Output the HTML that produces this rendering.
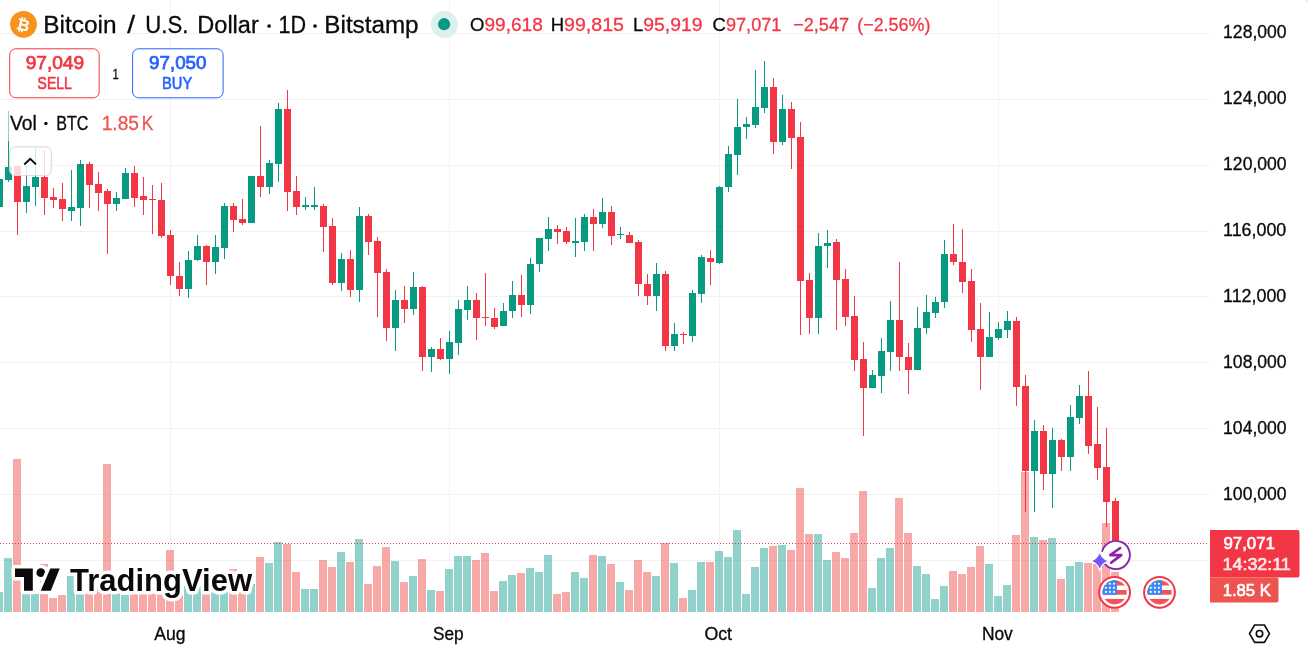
<!DOCTYPE html>
<html><head><meta charset="utf-8">
<style>
html,body{margin:0;padding:0;background:#fff;}
body{width:1308px;height:653px;overflow:hidden;position:relative;}
svg{position:absolute;left:0;top:0;}
.ov{will-change:transform;}
text{font-family:"Liberation Sans",Arial,sans-serif;}
</style></head><body>
<svg width="1308" height="653" viewBox="0 0 1308 653" shape-rendering="crispEdges">
<rect x="0" y="33" width="1209" height="1" fill="#F2F2F3"/>
<rect x="0" y="99" width="1209" height="1" fill="#F2F2F3"/>
<rect x="0" y="165" width="1209" height="1" fill="#F2F2F3"/>
<rect x="0" y="231" width="1209" height="1" fill="#F2F2F3"/>
<rect x="0" y="296" width="1209" height="1" fill="#F2F2F3"/>
<rect x="0" y="362" width="1209" height="1" fill="#F2F2F3"/>
<rect x="0" y="428" width="1209" height="1" fill="#F2F2F3"/>
<rect x="0" y="494" width="1209" height="1" fill="#F2F2F3"/>
<rect x="0" y="560" width="1209" height="1" fill="#F2F2F3"/>
<rect x="170" y="0" width="1" height="612" fill="#F2F2F3"/>
<rect x="449" y="0" width="1" height="612" fill="#F2F2F3"/>
<rect x="719" y="0" width="1" height="612" fill="#F2F2F3"/>
<rect x="998" y="0" width="1" height="612" fill="#F2F2F3"/>
<rect x="-5" y="592" width="8" height="20" fill="rgba(38,166,154,0.5)"/>
<rect x="4" y="558" width="8" height="54" fill="rgba(38,166,154,0.5)"/>
<rect x="13" y="459" width="8" height="153" fill="rgba(239,83,80,0.5)"/>
<rect x="22" y="594" width="8" height="18" fill="rgba(38,166,154,0.5)"/>
<rect x="31" y="594" width="8" height="18" fill="rgba(38,166,154,0.5)"/>
<rect x="40" y="564" width="8" height="48" fill="rgba(239,83,80,0.5)"/>
<rect x="49" y="598" width="8" height="14" fill="rgba(239,83,80,0.5)"/>
<rect x="58" y="595" width="8" height="17" fill="rgba(239,83,80,0.5)"/>
<rect x="67" y="576" width="8" height="36" fill="rgba(38,166,154,0.5)"/>
<rect x="76" y="586" width="8" height="26" fill="rgba(38,166,154,0.5)"/>
<rect x="85" y="594" width="8" height="18" fill="rgba(239,83,80,0.5)"/>
<rect x="94" y="584" width="8" height="28" fill="rgba(239,83,80,0.5)"/>
<rect x="103" y="464" width="8" height="148" fill="rgba(239,83,80,0.5)"/>
<rect x="112" y="590" width="8" height="22" fill="rgba(38,166,154,0.5)"/>
<rect x="121" y="595" width="8" height="17" fill="rgba(38,166,154,0.5)"/>
<rect x="130" y="592" width="8" height="20" fill="rgba(239,83,80,0.5)"/>
<rect x="139" y="592" width="8" height="20" fill="rgba(239,83,80,0.5)"/>
<rect x="148" y="592" width="8" height="20" fill="rgba(239,83,80,0.5)"/>
<rect x="157" y="592" width="8" height="20" fill="rgba(239,83,80,0.5)"/>
<rect x="166" y="550" width="8" height="62" fill="rgba(239,83,80,0.5)"/>
<rect x="175" y="585" width="8" height="27" fill="rgba(239,83,80,0.5)"/>
<rect x="184" y="586" width="8" height="26" fill="rgba(38,166,154,0.5)"/>
<rect x="193" y="586" width="8" height="26" fill="rgba(38,166,154,0.5)"/>
<rect x="202" y="588" width="8" height="24" fill="rgba(239,83,80,0.5)"/>
<rect x="211" y="588" width="8" height="24" fill="rgba(38,166,154,0.5)"/>
<rect x="220" y="588" width="8" height="24" fill="rgba(38,166,154,0.5)"/>
<rect x="229" y="569" width="8" height="43" fill="rgba(239,83,80,0.5)"/>
<rect x="238" y="590" width="8" height="22" fill="rgba(239,83,80,0.5)"/>
<rect x="247" y="584" width="8" height="28" fill="rgba(38,166,154,0.5)"/>
<rect x="256" y="557" width="8" height="55" fill="rgba(239,83,80,0.5)"/>
<rect x="265" y="563" width="8" height="49" fill="rgba(38,166,154,0.5)"/>
<rect x="274" y="542" width="8" height="70" fill="rgba(38,166,154,0.5)"/>
<rect x="283" y="544" width="8" height="68" fill="rgba(239,83,80,0.5)"/>
<rect x="292" y="572" width="8" height="40" fill="rgba(239,83,80,0.5)"/>
<rect x="301" y="589" width="8" height="23" fill="rgba(38,166,154,0.5)"/>
<rect x="310" y="589" width="8" height="23" fill="rgba(38,166,154,0.5)"/>
<rect x="319" y="560" width="8" height="52" fill="rgba(239,83,80,0.5)"/>
<rect x="328" y="567" width="8" height="45" fill="rgba(239,83,80,0.5)"/>
<rect x="337" y="552" width="8" height="60" fill="rgba(38,166,154,0.5)"/>
<rect x="346" y="562" width="8" height="50" fill="rgba(239,83,80,0.5)"/>
<rect x="355" y="539" width="8" height="73" fill="rgba(38,166,154,0.5)"/>
<rect x="364" y="584" width="8" height="28" fill="rgba(239,83,80,0.5)"/>
<rect x="373" y="566" width="8" height="46" fill="rgba(239,83,80,0.5)"/>
<rect x="382" y="547" width="8" height="65" fill="rgba(239,83,80,0.5)"/>
<rect x="391" y="561" width="8" height="51" fill="rgba(38,166,154,0.5)"/>
<rect x="400" y="582" width="8" height="30" fill="rgba(239,83,80,0.5)"/>
<rect x="409" y="576" width="8" height="36" fill="rgba(38,166,154,0.5)"/>
<rect x="418" y="559" width="8" height="53" fill="rgba(239,83,80,0.5)"/>
<rect x="427" y="590" width="8" height="22" fill="rgba(38,166,154,0.5)"/>
<rect x="436" y="591" width="8" height="21" fill="rgba(239,83,80,0.5)"/>
<rect x="445" y="569" width="8" height="43" fill="rgba(38,166,154,0.5)"/>
<rect x="454" y="556" width="8" height="56" fill="rgba(38,166,154,0.5)"/>
<rect x="463" y="556" width="8" height="56" fill="rgba(38,166,154,0.5)"/>
<rect x="472" y="560" width="8" height="52" fill="rgba(239,83,80,0.5)"/>
<rect x="481" y="553" width="8" height="59" fill="rgba(239,83,80,0.5)"/>
<rect x="490" y="591" width="8" height="21" fill="rgba(239,83,80,0.5)"/>
<rect x="499" y="581" width="8" height="31" fill="rgba(38,166,154,0.5)"/>
<rect x="508" y="575" width="8" height="37" fill="rgba(38,166,154,0.5)"/>
<rect x="517" y="573" width="8" height="39" fill="rgba(239,83,80,0.5)"/>
<rect x="526" y="568" width="8" height="44" fill="rgba(38,166,154,0.5)"/>
<rect x="535" y="572" width="8" height="40" fill="rgba(38,166,154,0.5)"/>
<rect x="544" y="555" width="8" height="57" fill="rgba(38,166,154,0.5)"/>
<rect x="553" y="594" width="8" height="18" fill="rgba(239,83,80,0.5)"/>
<rect x="562" y="592" width="8" height="20" fill="rgba(239,83,80,0.5)"/>
<rect x="571" y="572" width="8" height="40" fill="rgba(38,166,154,0.5)"/>
<rect x="580" y="578" width="8" height="34" fill="rgba(38,166,154,0.5)"/>
<rect x="589" y="555" width="8" height="57" fill="rgba(239,83,80,0.5)"/>
<rect x="598" y="556" width="8" height="56" fill="rgba(38,166,154,0.5)"/>
<rect x="607" y="564" width="8" height="48" fill="rgba(239,83,80,0.5)"/>
<rect x="616" y="582" width="8" height="30" fill="rgba(38,166,154,0.5)"/>
<rect x="625" y="590" width="8" height="22" fill="rgba(239,83,80,0.5)"/>
<rect x="634" y="560" width="8" height="52" fill="rgba(239,83,80,0.5)"/>
<rect x="643" y="572" width="8" height="40" fill="rgba(239,83,80,0.5)"/>
<rect x="652" y="576" width="8" height="36" fill="rgba(38,166,154,0.5)"/>
<rect x="661" y="543" width="8" height="69" fill="rgba(239,83,80,0.5)"/>
<rect x="670" y="563" width="8" height="49" fill="rgba(38,166,154,0.5)"/>
<rect x="679" y="598" width="8" height="14" fill="rgba(239,83,80,0.5)"/>
<rect x="688" y="590" width="8" height="22" fill="rgba(38,166,154,0.5)"/>
<rect x="697" y="562" width="8" height="50" fill="rgba(38,166,154,0.5)"/>
<rect x="706" y="562" width="8" height="50" fill="rgba(239,83,80,0.5)"/>
<rect x="715" y="551" width="8" height="61" fill="rgba(38,166,154,0.5)"/>
<rect x="724" y="557" width="8" height="55" fill="rgba(38,166,154,0.5)"/>
<rect x="733" y="530" width="8" height="82" fill="rgba(38,166,154,0.5)"/>
<rect x="742" y="594" width="8" height="18" fill="rgba(38,166,154,0.5)"/>
<rect x="751" y="567" width="8" height="45" fill="rgba(38,166,154,0.5)"/>
<rect x="760" y="548" width="8" height="64" fill="rgba(38,166,154,0.5)"/>
<rect x="769" y="546" width="8" height="66" fill="rgba(239,83,80,0.5)"/>
<rect x="778" y="545" width="8" height="67" fill="rgba(38,166,154,0.5)"/>
<rect x="787" y="550" width="8" height="62" fill="rgba(239,83,80,0.5)"/>
<rect x="796" y="488" width="8" height="124" fill="rgba(239,83,80,0.5)"/>
<rect x="805" y="534" width="8" height="78" fill="rgba(239,83,80,0.5)"/>
<rect x="814" y="534" width="8" height="78" fill="rgba(38,166,154,0.5)"/>
<rect x="823" y="560" width="8" height="52" fill="rgba(38,166,154,0.5)"/>
<rect x="832" y="552" width="8" height="60" fill="rgba(239,83,80,0.5)"/>
<rect x="841" y="558" width="8" height="54" fill="rgba(239,83,80,0.5)"/>
<rect x="850" y="533" width="8" height="79" fill="rgba(239,83,80,0.5)"/>
<rect x="859" y="491" width="8" height="121" fill="rgba(239,83,80,0.5)"/>
<rect x="868" y="588" width="8" height="24" fill="rgba(38,166,154,0.5)"/>
<rect x="877" y="558" width="8" height="54" fill="rgba(38,166,154,0.5)"/>
<rect x="886" y="548" width="8" height="64" fill="rgba(38,166,154,0.5)"/>
<rect x="895" y="498" width="8" height="114" fill="rgba(239,83,80,0.5)"/>
<rect x="904" y="533" width="8" height="79" fill="rgba(239,83,80,0.5)"/>
<rect x="913" y="566" width="8" height="46" fill="rgba(38,166,154,0.5)"/>
<rect x="922" y="574" width="8" height="38" fill="rgba(38,166,154,0.5)"/>
<rect x="931" y="599" width="8" height="13" fill="rgba(38,166,154,0.5)"/>
<rect x="940" y="586" width="8" height="26" fill="rgba(38,166,154,0.5)"/>
<rect x="949" y="571" width="8" height="41" fill="rgba(239,83,80,0.5)"/>
<rect x="958" y="574" width="8" height="38" fill="rgba(239,83,80,0.5)"/>
<rect x="967" y="567" width="8" height="45" fill="rgba(239,83,80,0.5)"/>
<rect x="976" y="546" width="8" height="66" fill="rgba(239,83,80,0.5)"/>
<rect x="985" y="564" width="8" height="48" fill="rgba(38,166,154,0.5)"/>
<rect x="994" y="596" width="8" height="16" fill="rgba(38,166,154,0.5)"/>
<rect x="1003" y="585" width="8" height="27" fill="rgba(38,166,154,0.5)"/>
<rect x="1012" y="535" width="8" height="77" fill="rgba(239,83,80,0.5)"/>
<rect x="1021" y="472" width="8" height="140" fill="rgba(239,83,80,0.5)"/>
<rect x="1030" y="537" width="8" height="75" fill="rgba(38,166,154,0.5)"/>
<rect x="1039" y="540" width="8" height="72" fill="rgba(239,83,80,0.5)"/>
<rect x="1048" y="538" width="8" height="74" fill="rgba(38,166,154,0.5)"/>
<rect x="1057" y="579" width="8" height="33" fill="rgba(239,83,80,0.5)"/>
<rect x="1066" y="566" width="8" height="46" fill="rgba(38,166,154,0.5)"/>
<rect x="1075" y="562" width="8" height="50" fill="rgba(38,166,154,0.5)"/>
<rect x="1084" y="563" width="8" height="49" fill="rgba(239,83,80,0.5)"/>
<rect x="1093" y="564" width="8" height="48" fill="rgba(239,83,80,0.5)"/>
<rect x="1102" y="523" width="8" height="89" fill="rgba(239,83,80,0.5)"/>
<rect x="1111" y="572" width="8" height="40" fill="rgba(239,83,80,0.5)"/>
<rect x="-1" y="179" width="1" height="28" fill="#089981"/>
<rect x="-4" y="179" width="7" height="28" fill="#089981"/>
<rect x="8" y="111" width="1" height="71" fill="#089981"/>
<rect x="5" y="167" width="7" height="13" fill="#089981"/>
<rect x="17" y="165" width="1" height="70" fill="#F23645"/>
<rect x="14" y="166" width="7" height="36" fill="#F23645"/>
<rect x="26" y="165" width="1" height="48" fill="#089981"/>
<rect x="23" y="186" width="7" height="16" fill="#089981"/>
<rect x="35" y="148" width="1" height="58" fill="#089981"/>
<rect x="32" y="177" width="7" height="10" fill="#089981"/>
<rect x="44" y="150" width="1" height="65" fill="#F23645"/>
<rect x="41" y="177" width="7" height="21" fill="#F23645"/>
<rect x="53" y="188" width="1" height="20" fill="#F23645"/>
<rect x="50" y="197" width="7" height="3" fill="#F23645"/>
<rect x="62" y="183" width="1" height="38" fill="#F23645"/>
<rect x="59" y="199" width="7" height="10" fill="#F23645"/>
<rect x="71" y="170" width="1" height="51" fill="#089981"/>
<rect x="68" y="207" width="7" height="4" fill="#089981"/>
<rect x="80" y="160" width="1" height="66" fill="#089981"/>
<rect x="77" y="164" width="7" height="44" fill="#089981"/>
<rect x="89" y="162" width="1" height="46" fill="#F23645"/>
<rect x="86" y="164" width="7" height="21" fill="#F23645"/>
<rect x="98" y="172" width="1" height="39" fill="#F23645"/>
<rect x="95" y="184" width="7" height="9" fill="#F23645"/>
<rect x="107" y="189" width="1" height="65" fill="#F23645"/>
<rect x="104" y="191" width="7" height="13" fill="#F23645"/>
<rect x="116" y="192" width="1" height="19" fill="#089981"/>
<rect x="113" y="198" width="7" height="6" fill="#089981"/>
<rect x="125" y="168" width="1" height="31" fill="#089981"/>
<rect x="122" y="173" width="7" height="26" fill="#089981"/>
<rect x="134" y="166" width="1" height="41" fill="#F23645"/>
<rect x="131" y="173" width="7" height="25" fill="#F23645"/>
<rect x="143" y="177" width="1" height="38" fill="#F23645"/>
<rect x="140" y="196" width="7" height="4" fill="#F23645"/>
<rect x="152" y="185" width="1" height="49" fill="#F23645"/>
<rect x="149" y="199" width="7" height="1" fill="#F23645"/>
<rect x="161" y="183" width="1" height="55" fill="#F23645"/>
<rect x="158" y="200" width="7" height="36" fill="#F23645"/>
<rect x="170" y="230" width="1" height="55" fill="#F23645"/>
<rect x="167" y="235" width="7" height="41" fill="#F23645"/>
<rect x="179" y="262" width="1" height="34" fill="#F23645"/>
<rect x="176" y="276" width="7" height="13" fill="#F23645"/>
<rect x="188" y="251" width="1" height="47" fill="#089981"/>
<rect x="185" y="260" width="7" height="29" fill="#089981"/>
<rect x="197" y="235" width="1" height="26" fill="#089981"/>
<rect x="194" y="246" width="7" height="14" fill="#089981"/>
<rect x="206" y="245" width="1" height="40" fill="#F23645"/>
<rect x="203" y="246" width="7" height="16" fill="#F23645"/>
<rect x="215" y="235" width="1" height="39" fill="#089981"/>
<rect x="212" y="247" width="7" height="15" fill="#089981"/>
<rect x="224" y="203" width="1" height="56" fill="#089981"/>
<rect x="221" y="206" width="7" height="42" fill="#089981"/>
<rect x="233" y="203" width="1" height="29" fill="#F23645"/>
<rect x="230" y="206" width="7" height="14" fill="#F23645"/>
<rect x="242" y="199" width="1" height="26" fill="#F23645"/>
<rect x="239" y="219" width="7" height="4" fill="#F23645"/>
<rect x="251" y="176" width="1" height="47" fill="#089981"/>
<rect x="248" y="176" width="7" height="47" fill="#089981"/>
<rect x="260" y="126" width="1" height="71" fill="#F23645"/>
<rect x="257" y="176" width="7" height="11" fill="#F23645"/>
<rect x="269" y="160" width="1" height="34" fill="#089981"/>
<rect x="266" y="163" width="7" height="24" fill="#089981"/>
<rect x="278" y="103" width="1" height="79" fill="#089981"/>
<rect x="275" y="109" width="7" height="55" fill="#089981"/>
<rect x="287" y="90" width="1" height="121" fill="#F23645"/>
<rect x="284" y="109" width="7" height="83" fill="#F23645"/>
<rect x="296" y="176" width="1" height="39" fill="#F23645"/>
<rect x="293" y="191" width="7" height="16" fill="#F23645"/>
<rect x="305" y="197" width="1" height="13" fill="#089981"/>
<rect x="302" y="205" width="7" height="2" fill="#089981"/>
<rect x="314" y="187" width="1" height="23" fill="#089981"/>
<rect x="311" y="205" width="7" height="2" fill="#089981"/>
<rect x="323" y="204" width="1" height="48" fill="#F23645"/>
<rect x="320" y="206" width="7" height="21" fill="#F23645"/>
<rect x="332" y="218" width="1" height="67" fill="#F23645"/>
<rect x="329" y="226" width="7" height="57" fill="#F23645"/>
<rect x="341" y="253" width="1" height="38" fill="#089981"/>
<rect x="338" y="259" width="7" height="24" fill="#089981"/>
<rect x="350" y="250" width="1" height="47" fill="#F23645"/>
<rect x="347" y="259" width="7" height="31" fill="#F23645"/>
<rect x="359" y="207" width="1" height="95" fill="#089981"/>
<rect x="356" y="216" width="7" height="74" fill="#089981"/>
<rect x="368" y="214" width="1" height="41" fill="#F23645"/>
<rect x="365" y="216" width="7" height="26" fill="#F23645"/>
<rect x="377" y="237" width="1" height="80" fill="#F23645"/>
<rect x="374" y="241" width="7" height="32" fill="#F23645"/>
<rect x="386" y="269" width="1" height="72" fill="#F23645"/>
<rect x="383" y="272" width="7" height="56" fill="#F23645"/>
<rect x="395" y="290" width="1" height="61" fill="#089981"/>
<rect x="392" y="300" width="7" height="28" fill="#089981"/>
<rect x="404" y="286" width="1" height="37" fill="#F23645"/>
<rect x="401" y="300" width="7" height="9" fill="#F23645"/>
<rect x="413" y="272" width="1" height="43" fill="#089981"/>
<rect x="410" y="287" width="7" height="22" fill="#089981"/>
<rect x="422" y="286" width="1" height="85" fill="#F23645"/>
<rect x="419" y="287" width="7" height="70" fill="#F23645"/>
<rect x="431" y="347" width="1" height="25" fill="#089981"/>
<rect x="428" y="349" width="7" height="8" fill="#089981"/>
<rect x="440" y="338" width="1" height="22" fill="#F23645"/>
<rect x="437" y="349" width="7" height="10" fill="#F23645"/>
<rect x="449" y="331" width="1" height="43" fill="#089981"/>
<rect x="446" y="342" width="7" height="17" fill="#089981"/>
<rect x="458" y="300" width="1" height="55" fill="#089981"/>
<rect x="455" y="309" width="7" height="34" fill="#089981"/>
<rect x="467" y="286" width="1" height="34" fill="#089981"/>
<rect x="464" y="300" width="7" height="10" fill="#089981"/>
<rect x="476" y="293" width="1" height="47" fill="#F23645"/>
<rect x="473" y="300" width="7" height="18" fill="#F23645"/>
<rect x="485" y="273" width="1" height="53" fill="#F23645"/>
<rect x="482" y="317" width="7" height="1" fill="#F23645"/>
<rect x="494" y="308" width="1" height="21" fill="#F23645"/>
<rect x="491" y="318" width="7" height="9" fill="#F23645"/>
<rect x="503" y="303" width="1" height="23" fill="#089981"/>
<rect x="500" y="311" width="7" height="15" fill="#089981"/>
<rect x="512" y="281" width="1" height="37" fill="#089981"/>
<rect x="509" y="295" width="7" height="16" fill="#089981"/>
<rect x="521" y="275" width="1" height="42" fill="#F23645"/>
<rect x="518" y="295" width="7" height="10" fill="#F23645"/>
<rect x="530" y="258" width="1" height="56" fill="#089981"/>
<rect x="527" y="264" width="7" height="41" fill="#089981"/>
<rect x="539" y="238" width="1" height="34" fill="#089981"/>
<rect x="536" y="238" width="7" height="26" fill="#089981"/>
<rect x="548" y="217" width="1" height="34" fill="#089981"/>
<rect x="545" y="229" width="7" height="10" fill="#089981"/>
<rect x="557" y="225" width="1" height="19" fill="#F23645"/>
<rect x="554" y="229" width="7" height="3" fill="#F23645"/>
<rect x="566" y="227" width="1" height="17" fill="#F23645"/>
<rect x="563" y="231" width="7" height="11" fill="#F23645"/>
<rect x="575" y="218" width="1" height="39" fill="#089981"/>
<rect x="572" y="241" width="7" height="2" fill="#089981"/>
<rect x="584" y="214" width="1" height="37" fill="#089981"/>
<rect x="581" y="217" width="7" height="25" fill="#089981"/>
<rect x="593" y="209" width="1" height="42" fill="#F23645"/>
<rect x="590" y="217" width="7" height="7" fill="#F23645"/>
<rect x="602" y="198" width="1" height="30" fill="#089981"/>
<rect x="599" y="212" width="7" height="12" fill="#089981"/>
<rect x="611" y="206" width="1" height="39" fill="#F23645"/>
<rect x="608" y="212" width="7" height="24" fill="#F23645"/>
<rect x="620" y="227" width="1" height="12" fill="#089981"/>
<rect x="617" y="234" width="7" height="1" fill="#089981"/>
<rect x="629" y="232" width="1" height="11" fill="#F23645"/>
<rect x="626" y="235" width="7" height="8" fill="#F23645"/>
<rect x="638" y="240" width="1" height="56" fill="#F23645"/>
<rect x="635" y="242" width="7" height="42" fill="#F23645"/>
<rect x="647" y="274" width="1" height="31" fill="#F23645"/>
<rect x="644" y="284" width="7" height="12" fill="#F23645"/>
<rect x="656" y="263" width="1" height="48" fill="#089981"/>
<rect x="653" y="274" width="7" height="22" fill="#089981"/>
<rect x="665" y="271" width="1" height="80" fill="#F23645"/>
<rect x="662" y="274" width="7" height="72" fill="#F23645"/>
<rect x="674" y="323" width="1" height="28" fill="#089981"/>
<rect x="671" y="334" width="7" height="12" fill="#089981"/>
<rect x="683" y="332" width="1" height="12" fill="#F23645"/>
<rect x="680" y="334" width="7" height="1" fill="#F23645"/>
<rect x="692" y="290" width="1" height="52" fill="#089981"/>
<rect x="689" y="293" width="7" height="43" fill="#089981"/>
<rect x="701" y="255" width="1" height="48" fill="#089981"/>
<rect x="698" y="257" width="7" height="37" fill="#089981"/>
<rect x="710" y="250" width="1" height="35" fill="#F23645"/>
<rect x="707" y="258" width="7" height="4" fill="#F23645"/>
<rect x="719" y="186" width="1" height="78" fill="#089981"/>
<rect x="716" y="187" width="7" height="76" fill="#089981"/>
<rect x="728" y="146" width="1" height="46" fill="#089981"/>
<rect x="725" y="154" width="7" height="33" fill="#089981"/>
<rect x="737" y="99" width="1" height="76" fill="#089981"/>
<rect x="734" y="127" width="7" height="28" fill="#089981"/>
<rect x="746" y="117" width="1" height="22" fill="#089981"/>
<rect x="743" y="124" width="7" height="3" fill="#089981"/>
<rect x="755" y="70" width="1" height="58" fill="#089981"/>
<rect x="752" y="107" width="7" height="18" fill="#089981"/>
<rect x="764" y="61" width="1" height="52" fill="#089981"/>
<rect x="761" y="87" width="7" height="21" fill="#089981"/>
<rect x="773" y="78" width="1" height="76" fill="#F23645"/>
<rect x="770" y="87" width="7" height="55" fill="#F23645"/>
<rect x="782" y="95" width="1" height="50" fill="#089981"/>
<rect x="779" y="109" width="7" height="33" fill="#089981"/>
<rect x="791" y="102" width="1" height="67" fill="#F23645"/>
<rect x="788" y="109" width="7" height="29" fill="#F23645"/>
<rect x="800" y="122" width="1" height="213" fill="#F23645"/>
<rect x="797" y="137" width="7" height="144" fill="#F23645"/>
<rect x="809" y="273" width="1" height="61" fill="#F23645"/>
<rect x="806" y="280" width="7" height="38" fill="#F23645"/>
<rect x="818" y="233" width="1" height="101" fill="#089981"/>
<rect x="815" y="246" width="7" height="72" fill="#089981"/>
<rect x="827" y="230" width="1" height="38" fill="#089981"/>
<rect x="824" y="243" width="7" height="3" fill="#089981"/>
<rect x="836" y="239" width="1" height="91" fill="#F23645"/>
<rect x="833" y="242" width="7" height="38" fill="#F23645"/>
<rect x="845" y="269" width="1" height="57" fill="#F23645"/>
<rect x="842" y="279" width="7" height="38" fill="#F23645"/>
<rect x="854" y="296" width="1" height="75" fill="#F23645"/>
<rect x="851" y="316" width="7" height="44" fill="#F23645"/>
<rect x="863" y="342" width="1" height="94" fill="#F23645"/>
<rect x="860" y="359" width="7" height="29" fill="#F23645"/>
<rect x="872" y="370" width="1" height="18" fill="#089981"/>
<rect x="869" y="375" width="7" height="13" fill="#089981"/>
<rect x="881" y="338" width="1" height="55" fill="#089981"/>
<rect x="878" y="351" width="7" height="25" fill="#089981"/>
<rect x="890" y="301" width="1" height="70" fill="#089981"/>
<rect x="887" y="320" width="7" height="32" fill="#089981"/>
<rect x="899" y="262" width="1" height="109" fill="#F23645"/>
<rect x="896" y="320" width="7" height="37" fill="#F23645"/>
<rect x="908" y="343" width="1" height="51" fill="#F23645"/>
<rect x="905" y="357" width="7" height="13" fill="#F23645"/>
<rect x="917" y="307" width="1" height="63" fill="#089981"/>
<rect x="914" y="328" width="7" height="42" fill="#089981"/>
<rect x="926" y="295" width="1" height="39" fill="#089981"/>
<rect x="923" y="312" width="7" height="16" fill="#089981"/>
<rect x="935" y="297" width="1" height="21" fill="#089981"/>
<rect x="932" y="302" width="7" height="11" fill="#089981"/>
<rect x="944" y="240" width="1" height="68" fill="#089981"/>
<rect x="941" y="254" width="7" height="48" fill="#089981"/>
<rect x="953" y="224" width="1" height="41" fill="#F23645"/>
<rect x="950" y="254" width="7" height="8" fill="#F23645"/>
<rect x="962" y="229" width="1" height="64" fill="#F23645"/>
<rect x="959" y="262" width="7" height="20" fill="#F23645"/>
<rect x="971" y="269" width="1" height="73" fill="#F23645"/>
<rect x="968" y="281" width="7" height="49" fill="#F23645"/>
<rect x="980" y="303" width="1" height="87" fill="#F23645"/>
<rect x="977" y="329" width="7" height="28" fill="#F23645"/>
<rect x="989" y="312" width="1" height="45" fill="#089981"/>
<rect x="986" y="337" width="7" height="20" fill="#089981"/>
<rect x="998" y="322" width="1" height="18" fill="#089981"/>
<rect x="995" y="329" width="7" height="9" fill="#089981"/>
<rect x="1007" y="311" width="1" height="27" fill="#089981"/>
<rect x="1004" y="321" width="7" height="9" fill="#089981"/>
<rect x="1016" y="317" width="1" height="89" fill="#F23645"/>
<rect x="1013" y="321" width="7" height="66" fill="#F23645"/>
<rect x="1025" y="375" width="1" height="137" fill="#F23645"/>
<rect x="1022" y="386" width="7" height="85" fill="#F23645"/>
<rect x="1034" y="420" width="1" height="92" fill="#089981"/>
<rect x="1031" y="431" width="7" height="40" fill="#089981"/>
<rect x="1043" y="425" width="1" height="65" fill="#F23645"/>
<rect x="1040" y="431" width="7" height="43" fill="#F23645"/>
<rect x="1052" y="428" width="1" height="80" fill="#089981"/>
<rect x="1049" y="440" width="7" height="34" fill="#089981"/>
<rect x="1061" y="439" width="1" height="32" fill="#F23645"/>
<rect x="1058" y="440" width="7" height="17" fill="#F23645"/>
<rect x="1070" y="405" width="1" height="66" fill="#089981"/>
<rect x="1067" y="417" width="7" height="40" fill="#089981"/>
<rect x="1079" y="385" width="1" height="39" fill="#089981"/>
<rect x="1076" y="396" width="7" height="22" fill="#089981"/>
<rect x="1088" y="371" width="1" height="83" fill="#F23645"/>
<rect x="1085" y="396" width="7" height="50" fill="#F23645"/>
<rect x="1097" y="407" width="1" height="73" fill="#F23645"/>
<rect x="1094" y="444" width="7" height="24" fill="#F23645"/>
<rect x="1106" y="428" width="1" height="99" fill="#F23645"/>
<rect x="1103" y="467" width="7" height="35" fill="#F23645"/>
<rect x="1115" y="498" width="1" height="64" fill="#F23645"/>
<rect x="1112" y="501" width="7" height="42" fill="#F23645"/>
<line x1="0" y1="543.5" x2="1209" y2="543.5" stroke="#F23645" stroke-width="1" stroke-dasharray="1 2"/>
</svg>
<svg class="ov" width="1308" height="653" viewBox="0 0 1308 653">
<rect x="0" y="106" width="158" height="35" fill="rgba(255,255,255,0.55)"/>
<rect x="9.7" y="146.8" width="41.6" height="28.7" rx="5.5" fill="rgba(255,255,255,0.8)" stroke="#DCDDE0" stroke-width="1.2"/>
<path d="M24.3 164.4 L30.2 158.8 L36 164.4" fill="none" stroke="#0A0A0A" stroke-width="2"/>
<g stroke="#fff" stroke-width="7" stroke-linejoin="round" paint-order="stroke" fill="#0A0A0A">
<path d="M15 568.4 H32.8 V590.8 H24 V577 H15 Z"/>
<circle cx="40.8" cy="572.7" r="4.4"/>
<path d="M50.3 568.4 H59.7 L50.8 590.8 H40.8 Z"/>
<text x="70" y="590.8" font-size="31" font-weight="bold">TradingView</text>
</g>
<circle cx="23.5" cy="24.3" r="13.4" fill="#F7931A"/>
<text x="23.4" y="30.4" font-size="16" font-weight="bold" fill="#fff" text-anchor="middle" transform="rotate(14 23.4 24.4)">₿</text>
<circle cx="444.4" cy="24.5" r="13.5" fill="#DCF0EC"/>
<circle cx="444.1" cy="24.2" r="6.1" fill="#089981"/>
<rect x="9.7" y="48.8" width="89.5" height="49" rx="6" fill="#fff" stroke="#F23645" stroke-width="1"/>
<rect x="132.6" y="48.8" width="90.5" height="49" rx="6" fill="#fff" stroke="#2962FF" stroke-width="1"/>
<path d="M1210 530 H1297.5 Q1299.5 530 1299.5 532 V575.6 Q1299.5 577.6 1297.5 577.6 H1210 Z" fill="#F23645"/>
<path d="M1210 577.6 H1276.5 Q1278.5 577.6 1278.5 579.6 V600.6 Q1278.5 602.6 1276.5 602.6 H1210 Z" fill="#EF5350"/>
<text x="43.26" y="33.0" font-size="23.5" font-weight="normal" fill="#0A0A0A" stroke="#0A0A0A" stroke-width="0.3" textLength="73.31" lengthAdjust="spacingAndGlyphs">Bitcoin</text>
<text x="127.20" y="33.0" font-size="23.5" font-weight="normal" fill="#0A0A0A" stroke="#0A0A0A" stroke-width="0.3" textLength="7.84" lengthAdjust="spacingAndGlyphs">/</text>
<text x="145.36" y="33.0" font-size="23.5" font-weight="normal" fill="#0A0A0A" stroke="#0A0A0A" stroke-width="0.3" textLength="43.06" lengthAdjust="spacingAndGlyphs">U.S.</text>
<text x="197.30" y="33.0" font-size="23.5" font-weight="normal" fill="#0A0A0A" stroke="#0A0A0A" stroke-width="0.3" textLength="61.49" lengthAdjust="spacingAndGlyphs">Dollar</text>
<text x="278.58" y="33.0" font-size="23.5" font-weight="normal" fill="#0A0A0A" stroke="#0A0A0A" stroke-width="0.3" textLength="27.58" lengthAdjust="spacingAndGlyphs">1D</text>
<text x="324.37" y="33.0" font-size="23.5" font-weight="normal" fill="#0A0A0A" stroke="#0A0A0A" stroke-width="0.3" textLength="94.16" lengthAdjust="spacingAndGlyphs">Bitstamp</text>
<text x="470.10" y="30.7" font-size="18.5" font-weight="normal" fill="#0A0A0A" stroke="#0A0A0A" stroke-width="0.3">O</text>
<text x="484.49" y="30.7" font-size="18.5" font-weight="normal" fill="#F23645" stroke="#F23645" stroke-width="0.3" textLength="58.32" lengthAdjust="spacingAndGlyphs">99,618</text>
<text x="550.70" y="30.7" font-size="18.5" font-weight="normal" fill="#0A0A0A" stroke="#0A0A0A" stroke-width="0.3">H</text>
<text x="564.08" y="30.7" font-size="18.5" font-weight="normal" fill="#F23645" stroke="#F23645" stroke-width="0.3" textLength="59.85" lengthAdjust="spacingAndGlyphs">99,815</text>
<text x="633.00" y="30.7" font-size="18.5" font-weight="normal" fill="#0A0A0A" stroke="#0A0A0A" stroke-width="0.3">L</text>
<text x="643.30" y="30.7" font-size="18.5" font-weight="normal" fill="#F23645" stroke="#F23645" stroke-width="0.3" textLength="59.22" lengthAdjust="spacingAndGlyphs">95,919</text>
<text x="712.60" y="30.7" font-size="18.5" font-weight="normal" fill="#0A0A0A" stroke="#0A0A0A" stroke-width="0.3">C</text>
<text x="725.98" y="30.7" font-size="18.5" font-weight="normal" fill="#F23645" stroke="#F23645" stroke-width="0.3" textLength="55.41" lengthAdjust="spacingAndGlyphs">97,071</text>
<text x="793.20" y="30.7" font-size="18.5" font-weight="normal" fill="#F23645" stroke="#F23645" stroke-width="0.3" textLength="55.91" lengthAdjust="spacingAndGlyphs">−2,547</text>
<text x="857.23" y="30.7" font-size="18.5" font-weight="normal" fill="#F23645" stroke="#F23645" stroke-width="0.3" textLength="73.24" lengthAdjust="spacingAndGlyphs">(−2.56%)</text>
<text x="25.70" y="68.8" font-size="17.5" font-weight="normal" fill="#F23645" stroke="#F23645" stroke-width="0.75" textLength="58.38" lengthAdjust="spacingAndGlyphs">97,049</text>
<text x="37.60" y="88.6" font-size="16" font-weight="normal" fill="#F23645" stroke="#F23645" stroke-width="0.6" textLength="34.12" lengthAdjust="spacingAndGlyphs">SELL</text>
<text x="112.61" y="78.6" font-size="14.2" font-weight="normal" fill="#0A0A0A" stroke="#0A0A0A" stroke-width="0.3" textLength="6.20" lengthAdjust="spacingAndGlyphs">1</text>
<text x="149.00" y="68.8" font-size="17.5" font-weight="normal" fill="#2962FF" stroke="#2962FF" stroke-width="0.75" textLength="57.50" lengthAdjust="spacingAndGlyphs">97,050</text>
<text x="162.08" y="88.6" font-size="16" font-weight="normal" fill="#2962FF" stroke="#2962FF" stroke-width="0.6" textLength="30.13" lengthAdjust="spacingAndGlyphs">BUY</text>
<text x="10.00" y="129.8" font-size="20" font-weight="normal" fill="#0A0A0A" stroke="#0A0A0A" stroke-width="0.3" textLength="26.89" lengthAdjust="spacingAndGlyphs">Vol</text>
<text x="56.29" y="129.8" font-size="20" font-weight="normal" fill="#0A0A0A" stroke="#0A0A0A" stroke-width="0.3" textLength="32.21" lengthAdjust="spacingAndGlyphs">BTC</text>
<text x="101.74" y="129.8" font-size="20" font-weight="normal" fill="#EF5350" stroke="#EF5350" stroke-width="0.3" textLength="37.20" lengthAdjust="spacingAndGlyphs">1.85</text>
<text x="141.83" y="129.8" font-size="20" font-weight="normal" fill="#EF5350" stroke="#EF5350" stroke-width="0.3" textLength="11.56" lengthAdjust="spacingAndGlyphs">K</text>
<text x="154.30" y="639.8" font-size="17.8" font-weight="normal" fill="#0A0A0A" stroke="#0A0A0A" stroke-width="0.3" textLength="31.23" lengthAdjust="spacingAndGlyphs">Aug</text>
<text x="433.03" y="639.8" font-size="17.8" font-weight="normal" fill="#0A0A0A" stroke="#0A0A0A" stroke-width="0.3" textLength="30.69" lengthAdjust="spacingAndGlyphs">Sep</text>
<text x="704.40" y="639.9" font-size="17.8" font-weight="normal" fill="#0A0A0A" stroke="#0A0A0A" stroke-width="0.3" textLength="27.67" lengthAdjust="spacingAndGlyphs">Oct</text>
<text x="981.92" y="639.9" font-size="17.8" font-weight="normal" fill="#0A0A0A" stroke="#0A0A0A" stroke-width="0.3" textLength="30.91" lengthAdjust="spacingAndGlyphs">Nov</text>
<text x="1223.40" y="548.6" font-size="17" font-weight="normal" fill="#fff" stroke="#fff" stroke-width="0.7" textLength="51.60" lengthAdjust="spacingAndGlyphs">97,071</text>
<text x="1222.55" y="569.6" font-size="17" font-weight="normal" fill="rgba(255,255,255,0.82)" stroke="rgba(255,255,255,0.82)" stroke-width="0.7" textLength="68.27" lengthAdjust="spacingAndGlyphs">14:32:11</text>
<text x="1222.72" y="595.5" font-size="17" font-weight="normal" fill="#fff" stroke="#fff" stroke-width="0.7" textLength="48.05" lengthAdjust="spacingAndGlyphs">1.85 K</text>
<text x="1223.10" y="37.8" font-size="17.6" font-weight="normal" fill="#0A0A0A" stroke="#0A0A0A" stroke-width="0.3" textLength="63.51" lengthAdjust="spacingAndGlyphs">128,000</text>
<text x="1223.10" y="103.8" font-size="17.6" font-weight="normal" fill="#0A0A0A" stroke="#0A0A0A" stroke-width="0.3" textLength="63.51" lengthAdjust="spacingAndGlyphs">124,000</text>
<text x="1223.10" y="169.8" font-size="17.6" font-weight="normal" fill="#0A0A0A" stroke="#0A0A0A" stroke-width="0.3" textLength="63.51" lengthAdjust="spacingAndGlyphs">120,000</text>
<text x="1223.09" y="235.8" font-size="17.6" font-weight="normal" fill="#0A0A0A" stroke="#0A0A0A" stroke-width="0.3" textLength="63.22" lengthAdjust="spacingAndGlyphs">116,000</text>
<text x="1223.09" y="301.8" font-size="17.6" font-weight="normal" fill="#0A0A0A" stroke="#0A0A0A" stroke-width="0.3" textLength="63.22" lengthAdjust="spacingAndGlyphs">112,000</text>
<text x="1223.10" y="367.8" font-size="17.6" font-weight="normal" fill="#0A0A0A" stroke="#0A0A0A" stroke-width="0.3" textLength="63.51" lengthAdjust="spacingAndGlyphs">108,000</text>
<text x="1223.10" y="433.8" font-size="17.6" font-weight="normal" fill="#0A0A0A" stroke="#0A0A0A" stroke-width="0.3" textLength="63.51" lengthAdjust="spacingAndGlyphs">104,000</text>
<text x="1223.10" y="499.8" font-size="17.6" font-weight="normal" fill="#0A0A0A" stroke="#0A0A0A" stroke-width="0.3" textLength="63.51" lengthAdjust="spacingAndGlyphs">100,000</text>
<circle cx="269.1" cy="26" r="1.85" fill="#0A0A0A"/>
<circle cx="315.0" cy="26" r="1.85" fill="#0A0A0A"/>
<circle cx="45.9" cy="123.5" r="1.7" fill="#0A0A0A"/>
<path d="M1249.5 633.7 L1254.6 625 H1264.4 L1269.5 633.7 L1264.4 642.4 H1254.6 Z" fill="none" stroke="#0A0A0A" stroke-width="1.6" stroke-linejoin="round"/>
<circle cx="1259.5" cy="633.7" r="3.2" fill="none" stroke="#0A0A0A" stroke-width="1.6"/>
<circle cx="1115.8" cy="555" r="14.5" fill="#fff"/>
<path d="M1102.28 551.0 A14.1 14.1 0 1 1 1105.29 564.4" fill="none" stroke="#8E24AA" stroke-width="1.9" stroke-linecap="round"/>
<path d="M1120.2 548 L1110.2 555.1 L1121.3 555.1 L1111.2 562.6" fill="none" stroke="#8E24AA" stroke-width="2.6" stroke-linejoin="round" stroke-linecap="round"/>
<path d="M1099.7 553.3 Q1101.7 558.9 1107.3 560.9 Q1101.7 562.9 1099.7 568.5 Q1097.7 562.9 1092.1000000000001 560.9 Q1097.7 558.9 1099.7 553.3 Z" fill="#7056FB" stroke="#fff" stroke-width="2.5" paint-order="stroke"/>
<circle cx="1114.6" cy="592.3" r="15.4" fill="#fff" stroke="#F23645" stroke-width="2"/>
<clipPath id="fc1114"><circle cx="1114.6" cy="592.3" r="12.1"/></clipPath>
<g clip-path="url(#fc1114)"><rect x="1101.6" y="579.3" width="26" height="26" fill="#fff"/><rect x="1101.6" y="579.8" width="26" height="5.7" fill="#F0545A"/><rect x="1101.6" y="590.0" width="26" height="4.699999999999999" fill="#F0545A"/><rect x="1101.6" y="598.9" width="26" height="6.4" fill="#F0545A"/><rect x="1101.6" y="579.3" width="15.4" height="15.4" fill="#3F88F2"/><circle cx="1105.90" cy="583.80" r="1.05" fill="#fff"/><circle cx="1109.95" cy="583.80" r="1.05" fill="#fff"/><circle cx="1114.00" cy="583.80" r="1.05" fill="#fff"/><circle cx="1105.90" cy="587.85" r="1.05" fill="#fff"/><circle cx="1109.95" cy="587.85" r="1.05" fill="#fff"/><circle cx="1114.00" cy="587.85" r="1.05" fill="#fff"/><circle cx="1105.90" cy="591.90" r="1.05" fill="#fff"/><circle cx="1109.95" cy="591.90" r="1.05" fill="#fff"/><circle cx="1114.00" cy="591.90" r="1.05" fill="#fff"/></g>

<circle cx="1159.5" cy="592.3" r="15.4" fill="#fff" stroke="#F23645" stroke-width="2"/>
<clipPath id="fc1159"><circle cx="1159.5" cy="592.3" r="12.1"/></clipPath>
<g clip-path="url(#fc1159)"><rect x="1146.5" y="579.3" width="26" height="26" fill="#fff"/><rect x="1146.5" y="579.8" width="26" height="5.7" fill="#F0545A"/><rect x="1146.5" y="590.0" width="26" height="4.699999999999999" fill="#F0545A"/><rect x="1146.5" y="598.9" width="26" height="6.4" fill="#F0545A"/><rect x="1146.5" y="579.3" width="15.4" height="15.4" fill="#3F88F2"/><circle cx="1150.80" cy="583.80" r="1.05" fill="#fff"/><circle cx="1154.85" cy="583.80" r="1.05" fill="#fff"/><circle cx="1158.90" cy="583.80" r="1.05" fill="#fff"/><circle cx="1150.80" cy="587.85" r="1.05" fill="#fff"/><circle cx="1154.85" cy="587.85" r="1.05" fill="#fff"/><circle cx="1158.90" cy="587.85" r="1.05" fill="#fff"/><circle cx="1150.80" cy="591.90" r="1.05" fill="#fff"/><circle cx="1154.85" cy="591.90" r="1.05" fill="#fff"/><circle cx="1158.90" cy="591.90" r="1.05" fill="#fff"/></g>

<path d="M1303.5 0 H1308 V4.5 A4.5 4.5 0 0 0 1303.5 0 Z" fill="#E6E7EA"/>
</svg>
</body></html>
